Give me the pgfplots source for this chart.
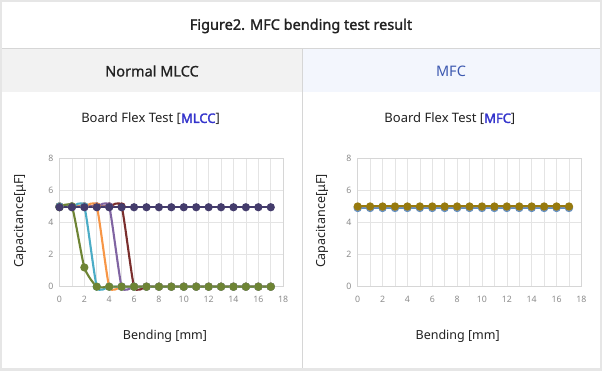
\documentclass[border=0pt]{standalone}
\usepackage{pgfplots}
\pgfplotsset{compat=1.18}
\usepackage{fontspec}
\setmainfont{Noto Sans}
\definecolor{bgout}{HTML}{E6E6E6}
\definecolor{hdrL}{HTML}{F2F2F2}
\definecolor{hdrR}{HTML}{F3F6FD}
\definecolor{linegray}{HTML}{D6D6D6}
\definecolor{txt}{HTML}{222222}
\definecolor{hblue}{HTML}{3D59B0}
\definecolor{tblue}{HTML}{3434CC}
\definecolor{tickgray}{HTML}{8C8C8C}
\definecolor{gridc}{HTML}{E4E4E4}
\definecolor{cnavy}{HTML}{443C6C}
\definecolor{cgreen}{HTML}{6E8434}
\definecolor{ccyan}{HTML}{4BACC6}
\definecolor{corange}{HTML}{F79646}
\definecolor{cpurple}{HTML}{8064A2}
\definecolor{cred}{HTML}{7A2E2C}
\definecolor{cblue}{HTML}{5B8FC8}
\definecolor{cgrayb}{HTML}{7F8FA6}
\definecolor{cgold}{HTML}{977A0E}
\pgfplotsset{
  flex/.style={
    scale only axis, width=223.7pt, height=128.4pt,
    xmin=0, xmax=18, ymin=0, ymax=8,
    xtick={0,2,...,18}, ytick={0,2,...,8},
    minor x tick num=1,
    grid=both,
    major grid style={gridc, line width=0.6pt},
    minor grid style={gridc, line width=0.6pt},
    major tick length=0pt, minor tick length=0pt,
    axis line style={draw=linegray, line width=0.6pt},
    tick label style={font=\fontsize{8.8}{9}\selectfont, text=tickgray},
    /pgf/number format/assume math mode=true,
    xticklabel style={inner sep=0pt, anchor=north, yshift=-9.5pt},
    yticklabel style={inner sep=0pt, anchor=east, xshift=-6pt},
    xlabel={Bending [mm]},
    ylabel={Capacitance[μF]},
    label style={font=\fontsize{12.5}{13}\selectfont, text=txt},
    clip=false,
  },
  ser/.style={color=#1, line width=2.1pt, mark=*, mark size=3pt, smooth, tension=0.33, mark options={solid, fill=#1, draw=#1}},
}
\begin{document}
\begin{tikzpicture}[x=1pt,y=1pt]
\fill[bgout] (0,0) rectangle (602,371);
\fill[white] (2,3) rectangle (600,369);
\fill[hdrL] (2,279.3) rectangle (302,322.7);
\fill[hdrR] (302,279.3) rectangle (600,322.7);
\draw[linegray, line width=0.8pt] (2,322.7) -- (600,322.7);
\draw[linegray, line width=0.8pt] (302,3) -- (302,322.7);
\node[font=\fontsize{14.5}{15}\selectfont\addfontfeature{FakeBold=1.6}, text=txt] at (301,345) {Figure2. MFC bending test result};
\node[font=\fontsize{14.5}{15}\selectfont\addfontfeature{FakeBold=1.0}, text=txt] at (152,300) {Normal MLCC};
\node[font=\fontsize{14.5}{15}\selectfont, text=hblue] at (451,300) {MFC};

\begin{axis}[flex, at={(59.5pt,84.3pt)}, anchor=south west,
  title={Board Flex Test [{\color{tblue}\addfontfeature{FakeBold=2.2}MLCC}]},
  title style={at={(axis description cs:0.407,1.306)}, anchor=center, yshift=-6pt, font=\fontsize{13}{13}\selectfont, text=txt},
  xlabel style={at={(axis description cs:0.4716,-0.376)}, anchor=center, yshift=-1.5pt},
  ylabel style={at={(axis description cs:-0.1766,0.512)}, anchor=center, rotate=0},
]
\addplot[ser=cred] coordinates {(0,5)(1,5)(2,5)(3,5)(4,5)(5,5)(6,0)(7,0)(8,0)(9,0)(10,0)(11,0)(12,0)(13,0)(14,0)(15,0)(16,0)(17,0)};
\addplot[ser=cpurple] coordinates {(0,5)(1,5)(2,5)(3,5)(4,5)(5,0)(6,0)(7,0)(8,0)(9,0)(10,0)(11,0)(12,0)(13,0)(14,0)(15,0)(16,0)(17,0)};
\addplot[ser=corange] coordinates {(0,5)(1,5)(2,5)(3,5)(4,0)(5,0)(6,0)(7,0)(8,0)(9,0)(10,0)(11,0)(12,0)(13,0)(14,0)(15,0)(16,0)(17,0)};
\addplot[ser=ccyan] coordinates {(0,5)(1,5)(2,5)(3,0)(4,0)(5,0)(6,0)(7,0)(8,0)(9,0)(10,0)(11,0)(12,0)(13,0)(14,0)(15,0)(16,0)(17,0)};
\addplot[ser=cgreen] coordinates {(0,4.95)(1,5)(2,1.2)(3,0)(4,0)(5,0)(6,0)(7,0)(8,0)(9,0)(10,0)(11,0)(12,0)(13,0)(14,0)(15,0)(16,0)(17,0)};
\addplot[ser=cnavy] coordinates {(0,4.95)(1,4.95)(2,4.95)(3,4.95)(4,4.95)(5,4.95)(6,4.95)(7,4.95)(8,4.95)(9,4.95)(10,4.95)(11,4.95)(12,4.95)(13,4.95)(14,4.95)(15,4.95)(16,4.95)(17,4.95)};
\end{axis}

\begin{axis}[flex, at={(357.7pt,84.3pt)}, anchor=south west,
  title={Board Flex Test [{\color{tblue}\addfontfeature{FakeBold=2.2}MFC}]},
  title style={at={(axis description cs:0.412,1.306)}, anchor=center, yshift=-6pt, font=\fontsize{13}{13}\selectfont, text=txt},
  xlabel style={at={(axis description cs:0.447,-0.376)}, anchor=center, yshift=-1.5pt},
  ylabel style={at={(axis description cs:-0.159,0.512)}, anchor=center, rotate=0},
]
\addplot[ser=cblue] coordinates {(0,4.9)(1,4.9)(2,4.9)(3,4.9)(4,4.9)(5,4.9)(6,4.9)(7,4.9)(8,4.9)(9,4.9)(10,4.9)(11,4.9)(12,4.9)(13,4.9)(14,4.9)(15,4.9)(16,4.9)(17,4.9)};
\addplot[ser=cgrayb] coordinates {(0,4.95)(1,4.95)(2,4.95)(3,4.95)(4,4.95)(5,4.95)(6,4.95)(7,4.95)(8,4.95)(9,4.95)(10,4.95)(11,4.95)(12,4.95)(13,4.95)(14,4.95)(15,4.95)(16,4.95)(17,4.95)};
\addplot[ser=cgold] coordinates {(0,5)(1,5)(2,5)(3,5)(4,5)(5,5)(6,5)(7,5)(8,5)(9,5)(10,5)(11,5)(12,5)(13,5)(14,5)(15,5)(16,5)(17,5)};
\end{axis}
\pgfresetboundingbox
\useasboundingbox (0,0) rectangle (602,371);
\end{tikzpicture}
\end{document}
